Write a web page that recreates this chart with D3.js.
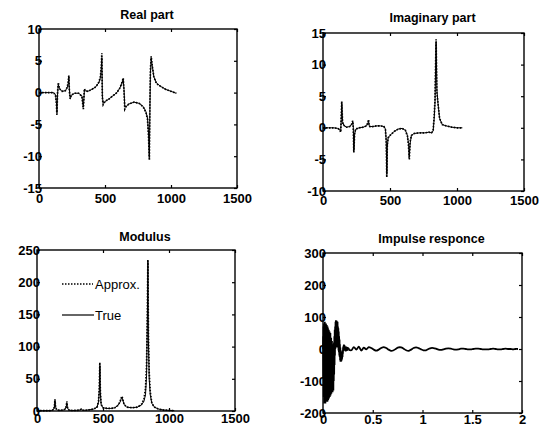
<!DOCTYPE html>
<html>
<head>
<meta charset="utf-8">
<script src="https://cdn.jsdelivr.net/npm/d3@7"></script>
<style>
  body { margin: 0; background: #fff; }
  svg { display: block; font-family: "Liberation Sans", Arial, sans-serif; }
  .tick text { font-weight: bold; font-size: 13px; fill: #000; }
  .tick line { stroke: #000; stroke-width: 1.2; }
</style>
</head>
<body>
<div id="chart"></div>
<script>
// frequency grid (Hz) shared by the three frequency plots
const freq = [0, 40, 80, 110, 125, 132, 136, 140, 146, 155, 175, 200, 215, 222, 226, 230, 236, 245, 270, 300,
  325, 336, 340, 344, 350, 370, 400, 430, 455, 466, 472, 476, 480, 486, 500, 530, 560, 590, 615, 630,
  638, 644, 650, 660, 680, 720, 760, 790, 810, 822, 830, 836, 840, 844, 850, 858, 870, 890, 920, 960, 1000, 1040];

const reTrue = [0, 0, 0, 0, -0.3, -1.5, -3.2, -0.5, 1.3, 0.6, 0.2, 0.3, 0.8, 1.5, 2.4, 0.5, -0.8, -0.4, -0.1, -0.1,
  -0.5, -2.3, -1.0, 0.4, 0.3, 0.2, 0.5, 0.9, 1.6, 2.4, 3.8, 5.5, -0.5, -1.7, -1.4, -1.0, -0.5, 0, 0.8, 1.6,
  2.1, 0.5, -2.3, -2.2, -1.8, -1.5, -1.7, -2.2, -3.0, -4.0, -6.5, -10.2, -3, 3, 5.4, 4.2, 2.5, 1.5, 1.0, 0.5, 0.2, -0.1];
const reApprox = [0, 0, 0, 0, -0.4, -1.8, -3.6, -0.2, 1.6, 0.6, 0.2, 0.3, 0.9, 1.8, 2.7, 0.3, -1.0, -0.4, -0.1, -0.1,
  -0.6, -2.6, -0.8, 0.6, 0.3, 0.2, 0.5, 0.9, 1.7, 2.6, 4.2, 6.2, -0.8, -1.9, -1.4, -1.0, -0.5, 0, 0.8, 1.7,
  2.3, 0.2, -2.6, -2.2, -1.8, -1.5, -1.7, -2.3, -3.1, -4.2, -7.0, -10.6, -2, 3.5, 5.7, 4.2, 2.5, 1.4, 1.0, 0.5, 0.2, -0.1];

const imTrue = [0, 0, 0, -0.1, -0.3, -0.6, 1.3, 3.8, 1.0, 0.4, 0.1, 0.2, 0.6, 0.9, 0.2, -3.5, -1.0, -0.2, 0, 0.1,
  0.3, 0.8, 1.1, 0.4, 0.2, 0.2, 0.3, 0.3, 0.2, -0.2, -2, -7.2, -3, -1.6, -1.2, -0.6, -0.2, -0.1, -0.4, -1.2,
  -2.5, -4.6, -2.5, -1.2, -0.9, -0.8, -0.8, -0.7, -0.8, -0.5, 1.5, 4, 9, 13.5, 6, 3.9, 1.5, 0.5, 0.3, 0.1, 0, 0];
const imApprox = [0, 0, 0, -0.1, -0.3, -0.7, 1.6, 4.2, 0.8, 0.4, 0.1, 0.2, 0.6, 1.1, 0.0, -3.9, -0.8, -0.2, 0, 0.1,
  0.3, 0.9, 1.3, 0.3, 0.2, 0.2, 0.3, 0.3, 0.2, -0.3, -2.4, -7.8, -2.6, -1.6, -1.2, -0.6, -0.2, -0.1, -0.4, -1.3,
  -2.8, -5.0, -2.2, -1.2, -0.9, -0.8, -0.8, -0.7, -0.8, -0.4, 2.0, 4.5, 9.5, 14, 5.5, 3.9, 1.5, 0.5, 0.3, 0.1, 0, 0];

const modTrue = [0.5, 0.5, 0.5, 0.8, 2, 6, 16, 7, 3, 1.5, 1, 1.5, 3, 7, 13, 6, 2.5, 1.2, 0.8, 1,
  1.5, 2.5, 2.2, 1.5, 1.2, 1.2, 2, 3, 6, 14, 32, 70, 28, 10, 5, 4, 4, 5, 9, 14,
  19, 21, 17, 10, 6, 5, 6, 9, 15, 25, 55, 140, 232, 110, 50, 25, 12, 6, 3, 1.5, 1, 0.5];
const modApprox = [0.5, 0.5, 0.5, 0.8, 2, 7, 18, 8, 3, 1.5, 1, 1.5, 3, 8, 15, 6, 2.5, 1.2, 0.8, 1,
  1.5, 3, 2.5, 1.5, 1.2, 1.2, 2, 3, 6, 15, 35, 75, 30, 10, 5, 4, 4, 5, 9, 15,
  20, 23, 18, 10, 6, 5, 6, 10, 18, 35, 70, 150, 235, 120, 60, 30, 12, 6, 3, 1.5, 1, 0.5];

// impulse response: dense early part (step 0.002 s) and slow tail (step 0.025 s)
const impEarlyStep = 0.002;
const impEarly = [0, 40, -90, 70, -150, 80, -170, 60, -160, 85, -165, 75, -170, 70, -150, 80, -165, 60, -160, 75,
  -150, 55, -165, 70, -140, 65, -160, 50, -150, 60, -155, 45, -140, 55, -150, 40, -130, 50, -145, 30,
  -120, 35, -140, 20, -130, 25, -120, 10, -135, 15, -110, 5, -130, 0, -100, 20, -80, 40, -50, 60,
  -20, 70, 0, 85, 10, 90, 5, 80, 15, 88, 10, 75, 20, 85, 5, 70, 10, 65, -5, 55,
  -10, 40, -20, 30, -25, 15, -35, 5, -40, -5, -40, -15, -38, -10, -35, -20, -30, -15, -25, -5,
  -15, 5, -5, 10, 0, 14, 5, 12, 0, 10, -4, 8, -6, 6, -8, 7, -5, 8, -6, 5,
  -4, 6, -5, 4, -3, 5, -2, 4, -4, 3, -3];
const impTailStep = 0.025;
const impTail = [-4, 6, -2, 7, -5, 4, -1, 6, 3, -2, -5, -2, 3, 6, 3, -2, -6, -4, 1, 5,
  5, 1, -4, -6, -2, 3, 5, 3, -1, -4, -4, 0, 3, 3, 1, -2, -3, -1, 1, 2,
  1, -1, -2, -1, 1, 1, 0, -1, -1, 0, 1, 1, 0, -1, -1, -1, 0, 1, 0, -1,
  -1, 0, 1, 0, 0, -1, 0, 0];

const freqTicks = [0, 500, 1000, 1500];

const width = 550;
const height = 429;

const svg = d3.select("#chart")
  .append("svg")
  .attr("width", width)
  .attr("height", height)
  .attr("viewBox", [0, 0, width, height]);

function drawPanel(p) {
  const g = svg.append("g");
  const x = d3.scaleLinear(p.xDomain, [p.left, p.left + p.w]);
  const y = d3.scaleLinear(p.yDomain, [p.top + p.h, p.top]);
  const fmt = d => String(d);

  // inward ticks on all four sides, labels only left and bottom
  g.append("g")
    .attr("transform", `translate(0,${p.top + p.h})`)
    .call(d3.axisBottom(x).tickValues(p.xTicks).tickFormat(fmt).tickSizeInner(-3).tickSizeOuter(0).tickPadding(p.xPad))
    .call(a => a.select(".domain").remove());
  g.append("g")
    .attr("transform", `translate(0,${p.top})`)
    .call(d3.axisTop(x).tickValues(p.xTicks).tickSizeInner(-3).tickSizeOuter(0).tickFormat(""))
    .call(a => a.select(".domain").remove());
  g.append("g")
    .attr("transform", `translate(${p.left},0)`)
    .call(d3.axisLeft(y).tickValues(p.yTicks).tickFormat(fmt).tickSizeInner(-3).tickSizeOuter(0).tickPadding(-3))
    .call(a => a.select(".domain").remove());
  g.append("g")
    .attr("transform", `translate(${p.left + p.w},0)`)
    .call(d3.axisRight(y).tickValues(p.yTicks).tickSizeInner(-3).tickSizeOuter(0).tickFormat(""))
    .call(a => a.select(".domain").remove());

  g.selectAll(".tick text").attr("fill", "#000");

  g.append("rect")
    .attr("x", p.left)
    .attr("y", p.top)
    .attr("width", p.w)
    .attr("height", p.h)
    .attr("fill", "none")
    .attr("stroke", "#000")
    .attr("stroke-width", 1.4);

  g.append("text")
    .attr("x", p.left + p.w / 2 + 9)
    .attr("y", p.titleY)
    .attr("text-anchor", "middle")
    .attr("font-size", 12.5)
    .attr("font-weight", "bold")
    .text(p.title);

  return { g, x, y };
}

function drawLines(panel, xs, trueVals, approxVals) {
  const line = d3.line()
    .x((d, i) => panel.x(xs[i]))
    .y(d => panel.y(d));
  panel.g.append("path")
    .attr("d", line(trueVals))
    .attr("fill", "none")
    .attr("stroke", "#000")
    .attr("stroke-width", 1);
  panel.g.append("path")
    .attr("d", line(approxVals))
    .attr("fill", "none")
    .attr("stroke", "#000")
    .attr("stroke-width", 1.7)
    .attr("stroke-dasharray", "1.5,1.5");
}

// Real part
const p1 = drawPanel({ left: 39, top: 29, w: 198, h: 159, xDomain: [0, 1500], yDomain: [-15, 10], xPad: 6,
  xTicks: freqTicks, yTicks: [-15, -10, -5, 0, 5, 10], title: "Real part", titleY: 19 });
drawLines(p1, freq, reTrue, reApprox);

// Imaginary part
const p2 = drawPanel({ left: 323, top: 33, w: 201, h: 158, xDomain: [0, 1500], yDomain: [-10, 15], xPad: 5,
  xTicks: freqTicks, yTicks: [-10, -5, 0, 5, 10, 15], title: "Imaginary part", titleY: 22 });
drawLines(p2, freq, imTrue, imApprox);

// Modulus
const p3 = drawPanel({ left: 37, top: 250, w: 198, h: 161, xDomain: [0, 1500], yDomain: [0, 250], xPad: 3,
  xTicks: freqTicks, yTicks: [0, 50, 100, 150, 200, 250], title: "Modulus", titleY: 241 });
drawLines(p3, freq, modTrue, modApprox);

// legend
const legend = p3.g.append("g");
legend.append("line")
  .attr("x1", 62).attr("x2", 93).attr("y1", 284).attr("y2", 284)
  .attr("stroke", "#000").attr("stroke-width", 1.6).attr("stroke-dasharray", "1.5,1.5");
legend.append("text")
  .attr("x", 95).attr("y", 289)
  .attr("font-size", 13).text("Approx.");
legend.append("line")
  .attr("x1", 62).attr("x2", 94).attr("y1", 315).attr("y2", 315)
  .attr("stroke", "#000").attr("stroke-width", 1.2);
legend.append("text")
  .attr("x", 95).attr("y", 320)
  .attr("font-size", 13).text("True");

// Impulse response
const p4 = drawPanel({ left: 323, top: 253, w: 199, h: 160, xDomain: [0, 2], yDomain: [-200, 300], xPad: 2,
  xTicks: [0, 0.5, 1, 1.5, 2], yTicks: [-200, -100, 0, 100, 200, 300], title: "Impulse responce", titleY: 243 });

const earlyLine = d3.line()
  .x((d, i) => p4.x(i * impEarlyStep))
  .y(d => p4.y(d));
p4.g.append("path")
  .attr("d", earlyLine(impEarly))
  .attr("fill", "none")
  .attr("stroke", "#000")
  .attr("stroke-width", 1.8);

const tailStart = (impEarly.length - 1) * impEarlyStep;
const tailLine = d3.line()
  .x((d, i) => p4.x(tailStart + i * impTailStep))
  .y(d => p4.y(d))
  .curve(d3.curveCatmullRom);
p4.g.append("path")
  .attr("d", tailLine([impEarly[impEarly.length - 1]].concat(impTail)))
  .attr("fill", "none")
  .attr("stroke", "#000")
  .attr("stroke-width", 1.8);
</script>
</body>
</html>
